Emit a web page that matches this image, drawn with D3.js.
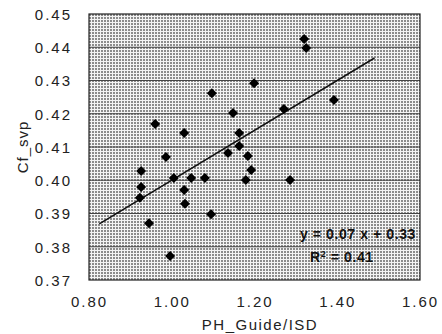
<!DOCTYPE html>
<html>
<head>
<meta charset="utf-8">
<script src="https://cdn.jsdelivr.net/npm/d3@7"></script>
<style>
  body { margin: 0; background: #fff; }
  text { font-family: Arial, "Liberation Sans", sans-serif; }
</style>
</head>
<body>
<div id="grafica"></div>
<script>
// datos
var phGuide = [1.320, 1.325, 1.199, 1.097, 1.392, 1.271, 1.148, 0.960, 1.030, 1.163,
  1.163, 1.136, 0.986, 1.184, 0.926, 1.192, 1.005, 1.047, 1.080, 1.179,
  1.286, 0.926, 1.030, 0.923, 1.032, 0.945, 1.095, 0.996];
var cfSvp = [0.4425, 0.4398, 0.4292, 0.4262, 0.4241, 0.4214, 0.4202, 0.4169, 0.4142, 0.4142,
  0.4103, 0.4082, 0.4070, 0.4073, 0.4028, 0.4031, 0.4007, 0.4007, 0.4007, 0.4001,
  0.4001, 0.3980, 0.3971, 0.3947, 0.3929, 0.3871, 0.3898, 0.3772];
var xTicks = [0.80, 1.00, 1.20, 1.40, 1.60];
var yTicks = [0.37, 0.38, 0.39, 0.40, 0.41, 0.42, 0.43, 0.44, 0.45];
// línea de tendencia
var trendSlope = 0.075;
var trendIntercept = 0.3250;
var trendX = [0.825, 1.49];
var eqLines = ["y = 0.07 x + 0.33", "R", "2", " = 0.41"];

var data = phGuide.map(function (d, i) { return { x: d, y: cfSvp[i] }; });

var margin = { top: 14, right: 22, bottom: 54, left: 89 },
  width = 442 - margin.left - margin.right,
  height = 334 - margin.top - margin.bottom;

var svg = d3.select("#grafica")
  .append("svg")
  .attr("width", 442)
  .attr("height", 334);

// patrón de trama gris
var defs = svg.append("defs");
var pat = defs.append("pattern")
  .attr("id", "trama")
  .attr("width", 3)
  .attr("height", 3)
  .attr("patternUnits", "userSpaceOnUse");
pat.append("rect").attr("width", 3).attr("height", 3).attr("fill", "#f4f4f4");
pat.append("rect").attr("width", 2).attr("height", 2).attr("fill", "#8c8c8c");

var g = svg.append("g")
  .attr("transform", "translate(" + margin.left + "," + margin.top + ")");

var x = d3.scaleLinear().domain([0.80, 1.60]).range([0, width]);
var y = d3.scaleLinear().domain([0.37, 0.45]).range([height, 0]);

// fondo
g.append("rect")
  .attr("width", width)
  .attr("height", height)
  .attr("fill", "url(#trama)");

// líneas de cuadrícula
g.selectAll(".grid")
  .data(yTicks.slice(1, -1))
  .enter()
  .append("line")
  .attr("x1", 0)
  .attr("x2", width)
  .attr("y1", function (d) { return y(d); })
  .attr("y2", function (d) { return y(d); })
  .attr("stroke", "#444")
  .attr("stroke-width", 1);

// borde
g.append("rect")
  .attr("width", width)
  .attr("height", height)
  .attr("fill", "none")
  .attr("stroke", "#222")
  .attr("stroke-width", 1.2);

// ejes
var yAxis = g.append("g")
  .call(d3.axisLeft(y).tickValues(yTicks).tickFormat(d3.format(".2f")).tickSize(0).tickPadding(17));
yAxis.select(".domain").remove();
yAxis.selectAll("text")
  .style("font-size", "15px")
  .style("letter-spacing", "2px")
  .attr("fill", "#222")
  .attr("dy", "0.36em");

var xAxis = g.append("g")
  .attr("transform", "translate(0," + height + ")")
  .call(d3.axisBottom(x).tickValues(xTicks).tickFormat(d3.format(".2f")).tickSize(0).tickPadding(16));
xAxis.select(".domain").remove();
xAxis.selectAll("text")
  .style("font-size", "15px")
  .style("letter-spacing", "2px")
  .attr("fill", "#222");

// títulos
svg.append("text")
  .attr("x", 260)
  .attr("y", 330)
  .attr("text-anchor", "middle")
  .style("font-size", "15px")
  .style("letter-spacing", "1.5px")
  .attr("fill", "#222")
  .text("PH_Guide/ISD");

svg.append("text")
  .attr("transform", "translate(28," + (margin.top + height / 2) + ") rotate(-90)")
  .attr("text-anchor", "middle")
  .style("font-size", "15px")
  .style("letter-spacing", "1px")
  .attr("fill", "#222")
  .text("Cf_svp");

// línea de tendencia
g.append("line")
  .attr("x1", x(trendX[0]))
  .attr("y1", y(trendSlope * trendX[0] + trendIntercept))
  .attr("x2", x(trendX[1]))
  .attr("y2", y(trendSlope * trendX[1] + trendIntercept))
  .attr("stroke", "#111")
  .attr("stroke-width", 1.6);

// puntos
g.selectAll(".punto")
  .data(data)
  .enter()
  .append("path")
  .attr("class", "punto")
  .attr("d", d3.symbol().type(d3.symbolSquare).size(50))
  .attr("transform", function (d) {
    return "translate(" + x(d.x) + "," + y(d.y) + ") rotate(45)";
  })
  .attr("fill", "#000");

// ecuación
svg.append("text")
  .attr("x", 416)
  .attr("y", 239)
  .attr("text-anchor", "end")
  .style("font-size", "14px")
  .style("font-weight", "bold")
  .style("letter-spacing", "0.6px")
  .attr("fill", "#111")
  .text(eqLines[0]);

var r2 = svg.append("text")
  .attr("x", 310)
  .attr("y", 262)
  .style("font-size", "14px")
  .style("font-weight", "bold")
  .style("letter-spacing", "0.6px")
  .attr("fill", "#111");
r2.append("tspan").text(eqLines[1]);
r2.append("tspan").attr("dy", -5).style("font-size", "9px").text(eqLines[2]);
r2.append("tspan").attr("dy", 5).text(eqLines[3]);
</script>
</body>
</html>
